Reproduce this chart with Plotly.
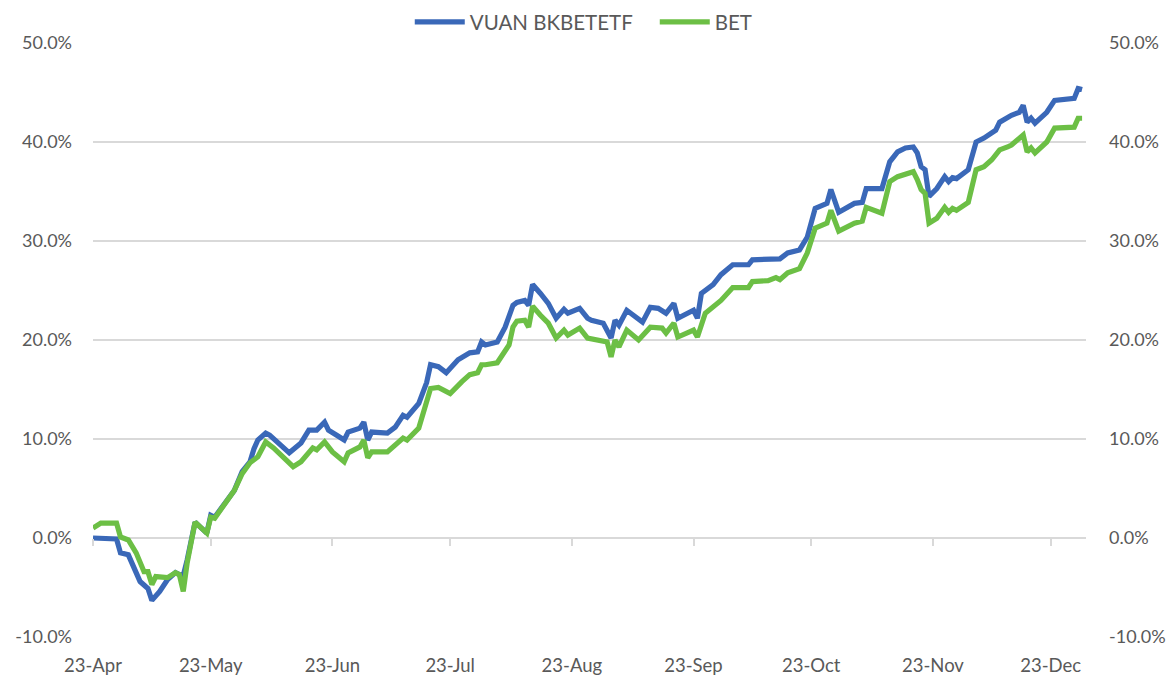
import plotly.graph_objects as go

# ---- data (cumulative return, %) ----
vuan_dates = [
    "2025-04-23", "2025-04-29", "2025-04-30", "2025-05-02", "2025-05-05", "2025-05-07", "2025-05-08",
    "2025-05-10", "2025-05-12", "2025-05-14", "2025-05-15", "2025-05-16", "2025-05-17", "2025-05-19",
    "2025-05-22", "2025-05-23", "2025-05-24", "2025-05-29", "2025-05-31", "2025-06-02", "2025-06-03",
    "2025-06-04", "2025-06-06", "2025-06-07", "2025-06-12", "2025-06-15", "2025-06-17", "2025-06-19",
    "2025-06-21", "2025-06-22", "2025-06-24", "2025-06-26", "2025-06-27", "2025-06-30", "2025-07-01",
    "2025-07-02", "2025-07-03", "2025-07-07", "2025-07-09", "2025-07-11", "2025-07-12", "2025-07-15",
    "2025-07-17", "2025-07-18", "2025-07-20", "2025-07-22", "2025-07-25", "2025-07-28", "2025-07-30",
    "2025-07-31", "2025-08-01", "2025-08-04", "2025-08-06", "2025-08-08", "2025-08-09", "2025-08-11",
    "2025-08-12", "2025-08-13", "2025-08-15", "2025-08-17", "2025-08-19", "2025-08-21", "2025-08-22",
    "2025-08-25", "2025-08-27", "2025-08-28", "2025-08-30", "2025-08-31", "2025-09-02", "2025-09-03",
    "2025-09-04", "2025-09-06", "2025-09-07", "2025-09-10", "2025-09-12", "2025-09-14", "2025-09-16",
    "2025-09-18", "2025-09-19", "2025-09-23", "2025-09-24", "2025-09-25", "2025-09-28", "2025-09-30",
    "2025-10-03", "2025-10-07", "2025-10-08", "2025-10-15", "2025-10-17", "2025-10-20", "2025-10-22",
    "2025-10-24", "2025-10-27", "2025-10-28", "2025-10-30", "2025-11-03", "2025-11-05", "2025-11-06",
    "2025-11-10", "2025-11-12", "2025-11-14", "2025-11-16", "2025-11-18", "2025-11-19", "2025-11-20",
    "2025-11-21", "2025-11-22", "2025-11-24", "2025-11-26", "2025-11-27", "2025-11-28", "2025-11-29",
    "2025-12-02", "2025-12-04", "2025-12-06", "2025-12-09", "2025-12-10", "2025-12-12", "2025-12-13",
    "2025-12-15", "2025-12-16", "2025-12-17", "2025-12-18", "2025-12-19", "2025-12-22", "2025-12-24",
    "2025-12-29", "2025-12-30", "2025-12-31",
]
vuan_values = [
    0.0, -0.1, -1.5, -1.7, -4.4, -5.1, -6.3,
    -5.4, -4.2, -3.5, -3.7, -3.8, -2.2, 1.6,
    0.5, 2.3, 2.1, 4.8, 6.7, 7.7, 9.0,
    9.9, 10.6, 10.4, 8.6, 9.6, 10.9, 10.9,
    11.7, 10.9, 10.4, 9.9, 10.7, 11.1, 11.7,
    9.9, 10.7, 10.6, 11.2, 12.4, 12.2, 13.6,
    15.7, 17.5, 17.3, 16.7, 18.0, 18.7, 18.8,
    19.8, 19.5, 19.8, 21.3, 23.5, 23.8, 24.0,
    23.5, 25.6, 24.7, 23.7, 22.2, 23.1, 22.7,
    23.2, 22.2, 22.0, 21.8, 21.7, 20.2, 22.0,
    21.5, 23.0, 22.7, 21.8, 23.3, 23.2, 22.7,
    23.7, 22.2, 23.0, 22.2, 24.7, 25.6, 26.6,
    27.6, 27.6, 28.1, 28.2, 28.8, 29.1, 30.4,
    33.3, 33.8, 35.2, 32.9, 33.8, 33.9, 35.3,
    35.3, 38.0, 39.0, 39.4, 39.5, 38.9, 37.5,
    37.2, 34.5, 35.3, 36.5, 36.0, 36.4, 36.3,
    37.2, 40.0, 40.4, 41.2, 42.0, 42.5, 42.7,
    43.0, 43.7, 42.0, 42.4, 41.9, 43.0, 44.2,
    44.4, 45.4, 45.3,
]

bet_dates = [
    "2025-04-23", "2025-04-25", "2025-04-29", "2025-04-30", "2025-05-02", "2025-05-04", "2025-05-06",
    "2025-05-07", "2025-05-08", "2025-05-09", "2025-05-12", "2025-05-14", "2025-05-15", "2025-05-16",
    "2025-05-17", "2025-05-19", "2025-05-22", "2025-05-23", "2025-05-24", "2025-05-29", "2025-05-31",
    "2025-06-02", "2025-06-04", "2025-06-06", "2025-06-08", "2025-06-13", "2025-06-15", "2025-06-18",
    "2025-06-19", "2025-06-21", "2025-06-23", "2025-06-26", "2025-06-27", "2025-06-30", "2025-07-01",
    "2025-07-02", "2025-07-03", "2025-07-07", "2025-07-11", "2025-07-12", "2025-07-15", "2025-07-17",
    "2025-07-18", "2025-07-20", "2025-07-23", "2025-07-26", "2025-07-28", "2025-07-30", "2025-07-31",
    "2025-08-01", "2025-08-04", "2025-08-07", "2025-08-08", "2025-08-09", "2025-08-11", "2025-08-12",
    "2025-08-13", "2025-08-15", "2025-08-17", "2025-08-19", "2025-08-21", "2025-08-22", "2025-08-25",
    "2025-08-27", "2025-08-30", "2025-09-01", "2025-09-02", "2025-09-03", "2025-09-04", "2025-09-06",
    "2025-09-09", "2025-09-12", "2025-09-15", "2025-09-16", "2025-09-18", "2025-09-19", "2025-09-23",
    "2025-09-24", "2025-09-26", "2025-09-30", "2025-10-03", "2025-10-07", "2025-10-08", "2025-10-12",
    "2025-10-14", "2025-10-15", "2025-10-17", "2025-10-20", "2025-10-22", "2025-10-24", "2025-10-27",
    "2025-10-28", "2025-10-30", "2025-11-03", "2025-11-05", "2025-11-06", "2025-11-10", "2025-11-12",
    "2025-11-14", "2025-11-18", "2025-11-19", "2025-11-20", "2025-11-21", "2025-11-22", "2025-11-24",
    "2025-11-26", "2025-11-27", "2025-11-28", "2025-11-29", "2025-12-02", "2025-12-04", "2025-12-06",
    "2025-12-08", "2025-12-10", "2025-12-12", "2025-12-13", "2025-12-16", "2025-12-17", "2025-12-18",
    "2025-12-19", "2025-12-22", "2025-12-24", "2025-12-29", "2025-12-30", "2025-12-31",
]
bet_values = [
    1.0, 1.5, 1.5, 0.1, -0.2, -1.5, -3.4,
    -3.4, -4.7, -3.9, -4.0, -3.5, -3.7, -5.4,
    -2.5, 1.6, 0.5, 2.1, 2.0, 4.8, 6.5,
    7.6, 8.2, 9.7, 9.1, 7.2, 7.7, 9.1,
    8.9, 9.7, 8.7, 7.7, 8.6, 9.2, 9.9,
    8.1, 8.7, 8.7, 10.1, 9.9, 11.1, 13.6,
    15.1, 15.2, 14.6, 15.8, 16.5, 16.7, 17.5,
    17.5, 17.7, 19.5, 21.3, 21.9, 22.0, 21.3,
    23.4, 22.5, 21.7, 20.2, 21.0, 20.5, 21.2,
    20.2, 19.9, 19.8, 18.3, 20.0, 19.3, 21.0,
    20.0, 21.3, 21.2, 20.7, 21.7, 20.3, 21.0,
    20.3, 22.7, 24.0, 25.3, 25.3, 25.9, 26.0,
    26.3, 26.1, 26.8, 27.2, 28.8, 31.3, 31.8,
    33.1, 31.0, 31.8, 32.0, 33.4, 32.8, 36.0,
    36.5, 37.0, 36.2, 35.2, 34.8, 31.8, 32.3,
    33.4, 32.9, 33.3, 33.1, 33.9, 37.2, 37.5,
    38.2, 39.2, 39.5, 39.7, 40.7, 39.0, 39.4,
    38.9, 40.0, 41.4, 41.5, 42.4, 42.4,
]

tick_dates = ["2025-04-23", "2025-05-23", "2025-06-23", "2025-07-23", "2025-08-23",
              "2025-09-23", "2025-10-23", "2025-11-23", "2025-12-23"]
tick_labels = ["23-Apr", "23-May", "23-Jun", "23-Jul", "23-Aug",
               "23-Sep", "23-Oct", "23-Nov", "23-Dec"]
y_ticks = [-10, 0, 10, 20, 30, 40, 50]

BLUE = "#3A68B8"
GREEN = "#6CBF45"
GRID = "#D9D9D9"
TXT = "#595959"
FONT = "Lato"
x_range = ["2025-04-23", "2026-01-01"]

W, H = 1166, 669  # page body adds an 8px margin

fig = go.Figure()
fig.add_trace(go.Scatter(x=vuan_dates, y=vuan_values, name="VUAN BKBETETF", mode="lines",
                         line=dict(color=BLUE, width=5.2), xaxis="x", yaxis="y"))
fig.add_trace(go.Scatter(x=bet_dates, y=bet_values, name="BET", mode="lines",
                         line=dict(color=GREEN, width=5.2), xaxis="x2", yaxis="y"))
# carrier for the right-hand axis
fig.add_trace(go.Scatter(x=[None], y=[None], xaxis="x", yaxis="y2", showlegend=False,
                         hoverinfo="skip", mode="lines"))

yfmt = dict(range=[-10, 50], tickvals=y_ticks, ticktext=[f"{v:.1f}%" for v in y_ticks],
            tickfont=dict(family=FONT, size=18, color=TXT), zeroline=False, ticks="")

fig.update_layout(
    width=W, height=H,
    margin=dict(l=85, r=88, t=35, b=40, autoexpand=False),
    paper_bgcolor="white", plot_bgcolor="white",
    font=dict(family=FONT, color=TXT),
    showlegend=True,
    legend=dict(orientation="h", x=0.319, xanchor="left", yref="container",
                y=1 - 14 / H, yanchor="middle",
                font=dict(family=FONT, size=20.5, color=TXT), bgcolor="rgba(0,0,0,0)",
                itemwidth=50, tracegroupgap=0, entrywidth=180, entrywidthmode="pixels"),
    xaxis=dict(type="date", range=x_range, tickvals=tick_dates, ticktext=tick_labels,
               showgrid=False, zeroline=False, showline=False, ticks="",
               tickfont=dict(family=FONT, size=18.5, color=TXT), ticklabelstandoff=15),
    xaxis2=dict(type="date", range=x_range, overlaying="x", anchor="free", position=1/6,
                tickvals=tick_dates, showticklabels=False, showgrid=False, zeroline=False,
                showline=False, ticks="outside", ticklen=7, tickwidth=1.5, tickcolor=GRID),
    yaxis=dict(**yfmt, showgrid=True, gridcolor=GRID, gridwidth=1.5, side="left",
               ticklabelstandoff=20),
    yaxis2=dict(**yfmt, showgrid=False, overlaying="y", side="right", anchor="x",
                ticklabelstandoff=22),
)

fig.write_html("out.html")
